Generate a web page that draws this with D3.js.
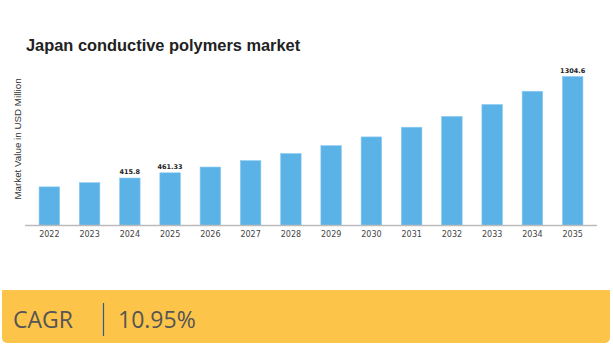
<!DOCTYPE html>
<html>
<head>
<meta charset="utf-8">
<script src="https://cdn.jsdelivr.net/npm/d3@7"></script>
<style>
  html, body { margin: 0; padding: 0; background: #fff; }
  svg { display: block; }
</style>
</head>
<body>
<script>
// chart data
const years = ['2022', '2023', '2024', '2025', '2026', '2027', '2028',
  '2029', '2030', '2031', '2032', '2033', '2034', '2035'];
const marketValues = [338.2, 374.8, 415.8, 461.33, 511.9, 567.9, 630.1,
  699.1, 775.7, 860.6, 954.9, 1059.5, 1175.5, 1304.6];
const labelledYears = ['2024', '2025', '2035'];
const chartTitle = 'Japan conductive polymers market';
const yAxisTitle = 'Market Value in USD Million';
const cagrLabel = 'CAGR';
const cagrValue = '10.95%';

const width = 613;
const height = 345;

const svg = d3.select('body').append('svg')
  .attr('width', width)
  .attr('height', height);

// Scales
const x = d3.scaleBand()
  .domain(years)
  .range([29, 593])
  .paddingInner(0.49)
  .paddingOuter(0.25);

const y = d3.scaleLinear()
  .domain([0, d3.max(marketValues)])
  .range([225.5, 76.5]);

// Title
svg.append('text')
  .attr('x', 26)
  .attr('y', 51)
  .style('font-family', '"Liberation Sans", Arial, sans-serif')
  .style('font-size', '16.4px')
  .style('font-weight', 'bold')
  .style('fill', '#222')
  .text(chartTitle);

// Y axis title
svg.append('text')
  .attr('transform', 'translate(21, 139) rotate(-90)')
  .attr('text-anchor', 'middle')
  .style('font-family', '"Liberation Sans", Arial, sans-serif')
  .style('font-size', '9.8px')
  .style('fill', '#333')
  .text(yAxisTitle);

// Bars
svg.selectAll('.bar')
  .data(marketValues)
  .enter()
  .append('rect')
  .attr('class', 'bar')
  .attr('x', (_, i) => x(years[i]))
  .attr('y', d => y(d))
  .attr('width', x.bandwidth())
  .attr('height', d => y(0) - y(d))
  .attr('fill', '#5AB2E7')
  .attr('stroke', '#8CCBF0')
  .attr('stroke-width', 0.6);

// Value labels on selected bars
svg.selectAll('.value-label')
  .data(marketValues.map((v, i) => ({ year: years[i], value: v }))
    .filter(d => labelledYears.includes(d.year)))
  .enter()
  .append('text')
  .attr('class', 'value-label')
  .attr('x', d => x(d.year) + x.bandwidth() / 2)
  .attr('y', d => y(d.value) - 4)
  .attr('text-anchor', 'middle')
  .style('font-family', '"DejaVu Sans", sans-serif')
  .style('font-size', '6.5px')
  .style('font-weight', 'bold')
  .style('fill', '#222')
  .text(d => d.value);

// X axis
const xAxis = d3.axisBottom(x).tickSize(0).tickPadding(6);

const gx = svg.append('g')
  .attr('transform', `translate(0, ${y(0)})`)
  .call(xAxis);

gx.select('.domain')
  .attr('d', 'M25,0H597')
  .attr('stroke', '#bbb')
  .attr('stroke-width', 1.5);

gx.selectAll('text')
  .style('font-family', '"DejaVu Sans", sans-serif')
  .style('font-size', '8px')
  .style('fill', '#444');

// CAGR band
const band = svg.append('g');

band.append('path')
  .attr('d', 'M2,290H610V338a5,5 0 0 1 -5,5H7a5,5 0 0 1 -5,-5Z')
  .attr('fill', '#FDC44A');

band.append('text')
  .attr('x', 13)
  .attr('y', 328)
  .style('font-family', '"Open Sans", sans-serif')
  .style('font-size', '23px')
  .style('fill', '#555')
  .text(cagrLabel);

band.append('line')
  .attr('x1', 103.5)
  .attr('x2', 103.5)
  .attr('y1', 303)
  .attr('y2', 336)
  .attr('stroke', '#2B5C8A')
  .attr('stroke-width', 1.2);

band.append('text')
  .attr('x', 118)
  .attr('y', 328)
  .style('font-family', '"Open Sans", sans-serif')
  .style('font-size', '23px')
  .style('fill', '#555')
  .text(cagrValue);
</script>
</body>
</html>
